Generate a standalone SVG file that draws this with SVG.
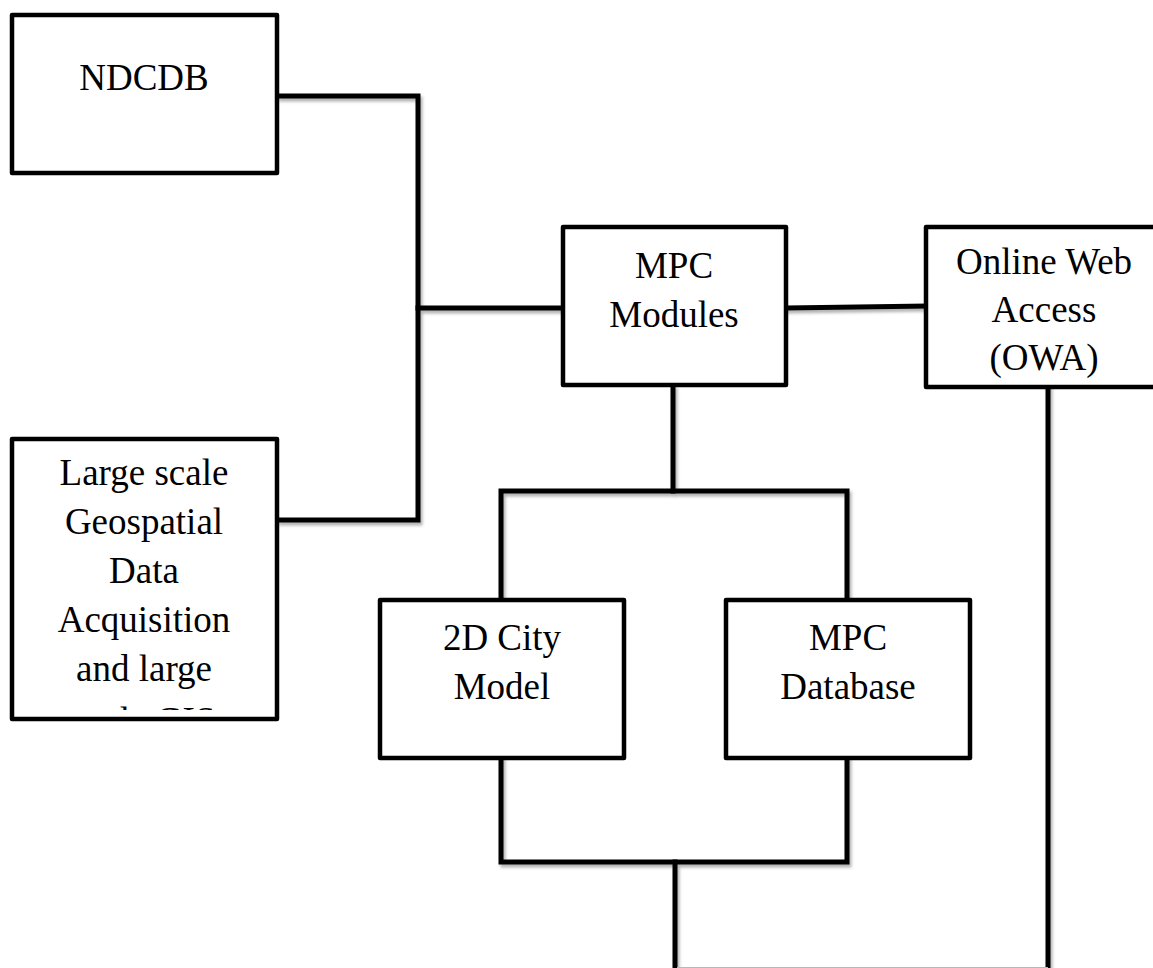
<svg xmlns="http://www.w3.org/2000/svg" width="1153" height="968" viewBox="0 0 1153 968">
  <style>
    .box { fill: #ffffff; stroke: #000000; stroke-width: 4.5; stroke-linejoin: round; }
    .wire { fill: none; stroke: #000000; stroke-width: 5; stroke-linejoin: miter; stroke-linecap: square; }
    .label { font-family: "Liberation Serif", "Times New Roman", serif; font-size: 37px; fill: #000000; text-anchor: middle; }
  </style>
  <defs>
    <filter id="soft-shadow" x="-5%" y="-5%" width="110%" height="110%">
      <feDropShadow dx="2" dy="3" stdDeviation="1.5" flood-color="#000000" flood-opacity="0.3"/>
    </filter>
    <!-- text frame of the lower-left box: the last line is cut off -->
    <clipPath id="large-scale-clip">
      <rect x="14" y="441" width="261" height="269"/>
    </clipPath>
  </defs>

  <rect width="1153" height="968" fill="#ffffff"/>

  <!-- connectors -->
  <g id="connectors" filter="url(#soft-shadow)">
    <path class="wire" d="M279,96 H418 V520 H279"/>
    <path class="wire" d="M418,308 H563"/>
    <path class="wire" d="M786,308 L926,306"/>
    <path class="wire" d="M673,387 V491"/>
    <path class="wire" d="M501,600 V491 H847 V600"/>
    <path class="wire" d="M501,758 V862 H847 V758"/>
    <path class="wire" d="M675,862 V975"/>
    <path class="wire" d="M1048,387 V975"/>
    <!-- edge of the lower link, running off the bottom of the sheet -->
    <line x1="677" y1="967.5" x2="1048" y2="967.5" stroke="#b8b8b8" stroke-width="1"/>
  </g>

  <!-- NDCDB -->
  <g id="ndcdb">
    <rect class="box" x="12" y="15" width="265" height="158"/>
    <text class="label" x="144" y="90">NDCDB</text>
  </g>

  <!-- Large scale geospatial data acquisition -->
  <g id="large-scale">
    <rect class="box" x="12" y="439" width="265" height="280"/>
    <g clip-path="url(#large-scale-clip)">
      <text class="label" x="144" y="485">Large scale</text>
      <text class="label" x="144" y="534">Geospatial</text>
      <text class="label" x="144" y="583">Data</text>
      <text class="label" x="144" y="632">Acquisition</text>
      <text class="label" x="144" y="681">and large</text>
      <text class="label" x="144" y="733">scale GIS</text>
    </g>
  </g>

  <!-- MPC Modules -->
  <g id="mpc-modules">
    <rect class="box" x="563" y="227" width="223" height="158"/>
    <text class="label" x="674" y="278">MPC</text>
    <text class="label" x="674" y="327">Modules</text>
  </g>

  <!-- Online Web Access -->
  <g id="owa">
    <rect class="box" x="926" y="227" width="240" height="160"/>
    <text class="label" x="1044" y="274">Online Web</text>
    <text class="label" x="1044" y="322">Access</text>
    <text class="label" x="1044" y="370">(OWA)</text>
  </g>

  <!-- 2D City Model -->
  <g id="city-model">
    <rect class="box" x="380" y="600" width="244" height="158"/>
    <text class="label" x="502" y="650">2D City</text>
    <text class="label" x="502" y="699">Model</text>
  </g>

  <!-- MPC Database -->
  <g id="mpc-database">
    <rect class="box" x="726" y="600" width="244" height="158"/>
    <text class="label" x="848" y="650">MPC</text>
    <text class="label" x="848" y="699">Database</text>
  </g>
</svg>
